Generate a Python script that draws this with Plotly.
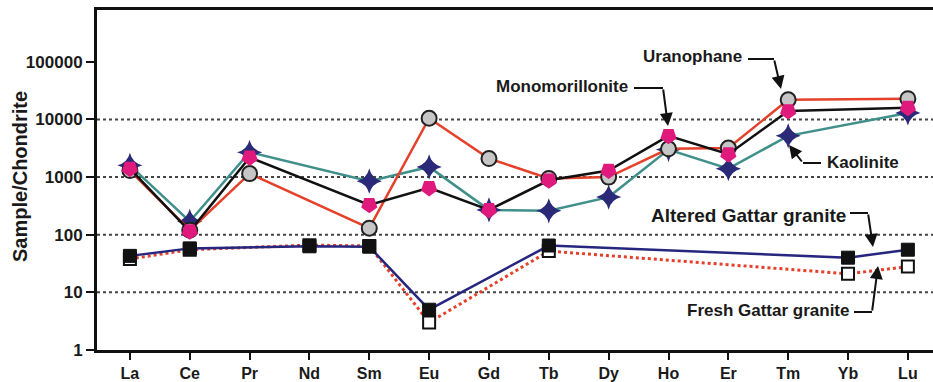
import plotly.graph_objects as go

# ---------------- data ----------------
elements = ['La', 'Ce', 'Pr', 'Nd', 'Sm', 'Eu', 'Gd', 'Tb', 'Dy', 'Ho', 'Er', 'Tm', 'Yb', 'Lu']

uranophane = [1300, 120, 1150, None, 130, 10500, 2100, 950, 1000, 3100, 3200, 22000, None, 23000]
monomorillonite = [1400, 115, 2200, None, 330, 650, 270, 880, 1300, 5200, 2500, 14000, None, 16000]
kaolinite = [1600, 170, 2700, None, 850, 1500, 270, 260, 450, 3000, 1400, 5200, None, 13000]
altered_granite = [43, 58, None, 63, 62, 5, None, 65, None, None, None, None, 40, 55]
fresh_granite = [38, 55, None, 66, 64, 3, None, 52, None, None, None, None, 21, 28]

y_tickvals = [1, 10, 100, 1000, 10000, 100000]
y_ticktext = ['1', '10', '100', '1000', '10000', '100000']
grid_values = [10, 100, 1000, 10000]

FONT = 'Liberation Sans, Arial, sans-serif'

fig = go.Figure()

# Fresh granite (open squares, red dotted)
fig.add_trace(go.Scatter(
    x=elements, y=fresh_granite, mode='lines+markers', connectgaps=True,
    name='Fresh Gattar granite',
    line=dict(color='#e5402a', width=3, dash='dot'),
    marker=dict(symbol='square', size=12, color='white', line=dict(color='#111', width=2)),
))
# Altered granite (filled squares, navy line)
fig.add_trace(go.Scatter(
    x=elements, y=altered_granite, mode='lines+markers', connectgaps=True,
    name='Altered Gattar granite',
    line=dict(color='#26267e', width=2.5),
    marker=dict(symbol='square', size=13, color='#111', line=dict(color='#111', width=1)),
))
# Kaolinite (navy stars, teal line)
fig.add_trace(go.Scatter(
    x=elements, y=kaolinite, mode='lines+markers', connectgaps=True,
    name='Kaolinite',
    line=dict(color='#3f8f8a', width=2.5),
    marker=dict(symbol='star-diamond', size=18, color='#2a2a78', line=dict(width=0)),
))
# Uranophane (grey circles, red line)
fig.add_trace(go.Scatter(
    x=elements, y=uranophane, mode='lines+markers', connectgaps=True,
    name='Uranophane',
    line=dict(color='#e5402a', width=2.5),
    marker=dict(symbol='circle', size=15, color='#c6c6c6', line=dict(color='#222', width=2)),
))
# Monomorillonite (pink shields, black line)
fig.add_trace(go.Scatter(
    x=elements, y=monomorillonite, mode='lines+markers', connectgaps=True,
    name='Monomorillonite',
    line=dict(color='#111', width=2.5),
    marker=dict(symbol='pentagon', angle=180, size=17, color='#e0197d', line=dict(width=0)),
))

# ---------------- layout geometry helpers (pixels -> paper) ----------------
W, H = 933, 382
L, R, T, B = 97, 933, 10, 350


def px(x):
    return (x - L) / (R - L)


def py(y):
    return (B - y) / (B - T)


shapes = []
for gv in grid_values:
    shapes.append(dict(type='line', xref='paper', yref='y', x0=0, x1=1, y0=gv, y1=gv,
                       layer='below', line=dict(color='#444', width=2, dash='dot')))

annotations = []


def label(text, cx, cy, size):
    annotations.append(dict(text='<b>%s</b>' % text, xref='paper', yref='paper',
                            x=px(cx), y=py(cy), xanchor='center', yanchor='middle',
                            showarrow=False, font=dict(family=FONT, size=size, color='#1a1a1a')))


def elbow(h0, h1, hy, tip):
    # horizontal segment
    shapes.append(dict(type='line', xref='paper', yref='paper',
                       x0=px(h0), x1=px(h1), y0=py(hy), y1=py(hy),
                       line=dict(color='#111', width=2)))
    # final segment with arrowhead
    annotations.append(dict(text='', xref='paper', yref='paper', x=px(tip[0]), y=py(tip[1]),
                            ax=h1 - tip[0], ay=hy - tip[1], showarrow=True,
                            arrowhead=2, arrowsize=1.3, arrowwidth=2, arrowcolor='#111'))


label('Uranophane', 692, 57, 17)
elbow(748, 774, 59, (781, 89))

label('Monomorillonite', 562, 87, 17)
elbow(634, 663, 88, (668, 126))

label('Kaolinite', 863, 163, 17)
elbow(821, 803, 163, (789, 145))

label('Altered Gattar granite', 748, 215, 19)
elbow(850, 868, 213, (873, 247))

label('Fresh Gattar granite', 768, 310, 17)
elbow(854, 872, 312, (878, 266))

# y-axis title
annotations.append(dict(text='<b>Sample/Chondrite</b>', xref='paper', yref='paper',
                        x=px(20), y=py(177), xanchor='center', yanchor='middle', textangle=-90,
                        showarrow=False, font=dict(family=FONT, size=20, color='#1a1a1a')))

fig.update_layout(
    width=W, height=H,
    margin=dict(l=L, r=W - R, t=T, b=H - B),
    paper_bgcolor='white', plot_bgcolor='white',
    showlegend=False,
    font=dict(family=FONT, color='#1a1a1a'),
    shapes=shapes,
    annotations=annotations,
    xaxis=dict(
        type='category', categoryorder='array', categoryarray=elements,
        range=[-0.55, 13.42],
        showline=True, linewidth=3, linecolor='#111', mirror=True,
        ticks='outside', ticklen=7, tickwidth=2, tickcolor='#111',
        showgrid=False, zeroline=False,
        tickfont=dict(family=FONT, size=16, color='#1a1a1a'),
        tickprefix='<b>', ticksuffix='</b>',
    ),
    yaxis=dict(
        type='log', range=[0, 5.9],
        tickvals=y_tickvals, ticktext=['<b>%s</b>' % t for t in y_ticktext],
        showline=True, linewidth=3, linecolor='#111',
        ticks='outside', ticklen=8, tickwidth=2, tickcolor='#111',
        showgrid=False, zeroline=False,
        tickfont=dict(family=FONT, size=17, color='#1a1a1a'),
    ),
)

fig.write_html('out.html')
